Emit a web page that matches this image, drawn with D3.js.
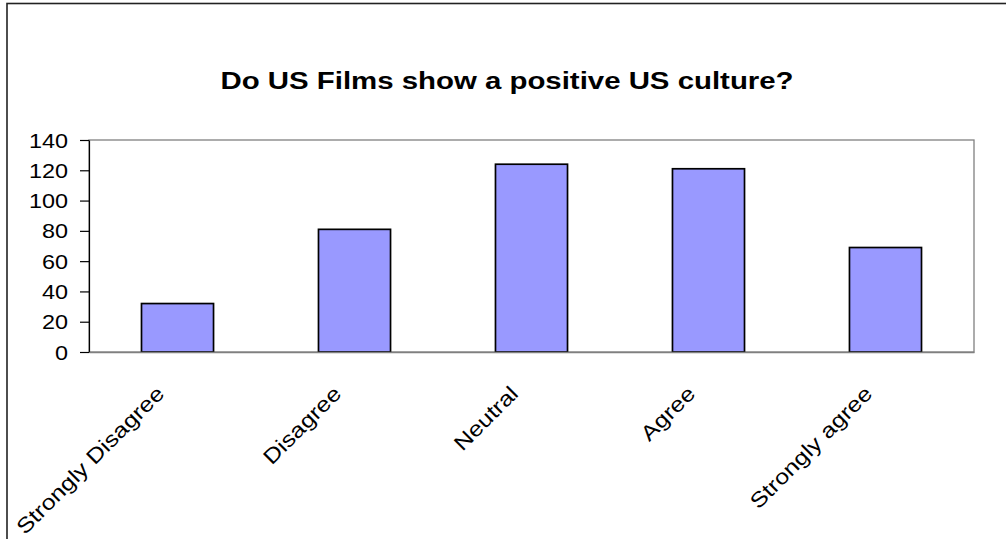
<!DOCTYPE html>
<html>
<head>
<meta charset="utf-8">
<script src="https://cdn.jsdelivr.net/npm/d3@7"></script>
<style>
  html, body { margin: 0; padding: 0; background: #fff; }
  svg { display: block; font-family: "Liberation Sans", Arial, sans-serif; }
</style>
</head>
<body>
<svg id="chart" width="1006" height="539"></svg>
<script>
// Survey answers and counts
const categories = ["Strongly Disagree", "Disagree", "Neutral", "Agree", "Strongly agree"];
const counts = [32, 81, 124, 121, 69];
const yTicks = [0, 20, 40, 60, 80, 100, 120, 140];
const title = "Do US Films show a positive US culture?";

const svg = d3.select("#chart");
const W = 1006, H = 539;
const plot = { left: 89, right: 974, top: 140, bottom: 352 };
const stretch = 1.2; // horizontal text stretch

// outer chart frame
svg.append("rect")
  .attr("x", 7).attr("y", 3.5)
  .attr("width", W + 10).attr("height", H + 10)
  .attr("fill", "#fff").attr("stroke", "#222").attr("stroke-width", 1.6);

// title
svg.append("text")
  .attr("transform", `translate(507,89) scale(${stretch},1)`)
  .attr("text-anchor", "middle")
  .attr("font-weight", "bold")
  .attr("font-size", 24.5)
  .attr("fill", "#000")
  .text(title);

const x = d3.scaleBand()
  .domain(categories)
  .range([plot.left, plot.right])
  .paddingInner(0.593)
  .paddingOuter(0.2966);

const y = d3.scaleLinear()
  .domain([0, 140])
  .range([plot.bottom, plot.top]);

// plot area border
svg.append("rect")
  .attr("x", plot.left).attr("y", plot.top)
  .attr("width", plot.right - plot.left).attr("height", plot.bottom - plot.top)
  .attr("fill", "#fff").attr("stroke", "#808080").attr("stroke-width", 1.3);

// bars
svg.append("g").selectAll("rect")
  .data(categories.map((c, i) => ({ c, v: counts[i] })))
  .join("rect")
  .attr("x", d => x(d.c))
  .attr("y", d => y(d.v))
  .attr("width", x.bandwidth())
  .attr("height", d => y(0) - y(d.v))
  .attr("fill", "#9999ff")
  .attr("stroke", "#000")
  .attr("stroke-width", 1.7);

// y axis
const yAxis = svg.append("g")
  .attr("transform", `translate(${plot.left},0)`)
  .call(d3.axisLeft(y).tickValues(yTicks).tickSize(9).tickPadding(0).tickSizeOuter(0));
yAxis.select(".domain").attr("stroke", "#000").attr("stroke-width", 1.2);
yAxis.selectAll(".tick line").attr("stroke", "#000").attr("stroke-width", 1.2);
yAxis.selectAll(".tick text").each(function () {
  const t = d3.select(this);
  t.attr("x", null).attr("dy", null)
    .attr("transform", `translate(-21,7) scale(${stretch},1)`)
    .attr("font-size", 19.5)
    .attr("font-family", "'Liberation Sans', Arial, sans-serif")
    .attr("fill", "#000");
});

// x axis
const xAxis = svg.append("g")
  .attr("transform", `translate(0,${plot.bottom})`)
  .call(d3.axisBottom(x).tickSize(0).tickSizeOuter(0));
xAxis.select(".domain").attr("stroke", "#808080").attr("stroke-width", 1.3);
xAxis.selectAll(".tick text").each(function () {
  d3.select(this)
    .attr("y", null).attr("dy", null)
    .attr("transform", `translate(-12,43) rotate(-45) scale(1.19,1)`)
    .attr("text-anchor", "end")
    .attr("font-size", 21)
    .attr("font-family", "'Liberation Sans', Arial, sans-serif")
    .attr("fill", "#000");
});
</script>
</body>
</html>
